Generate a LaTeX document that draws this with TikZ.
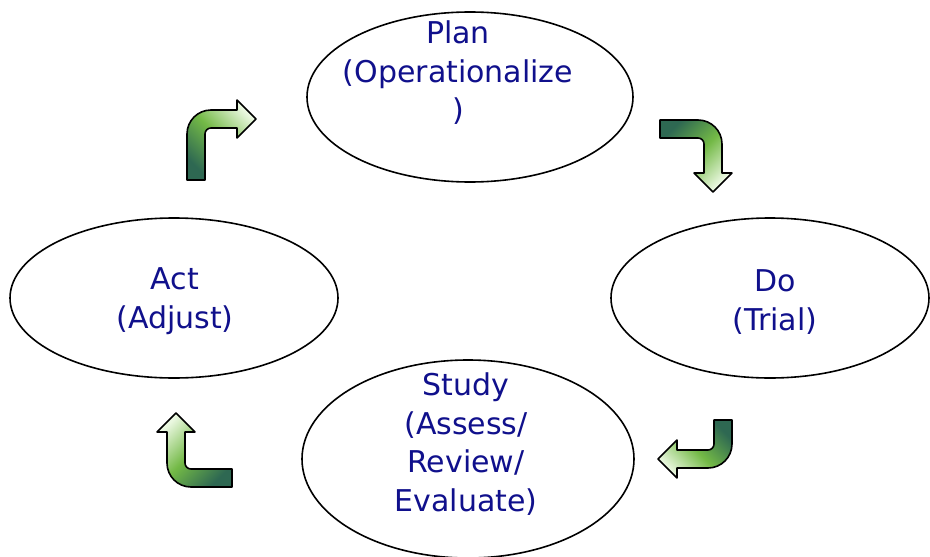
\documentclass[tikz,border=0pt]{standalone}
\usepackage{fontspec}
\setmainfont{DejaVu Sans}
\usetikzlibrary{shapes.geometric}
\definecolor{txtblue}{RGB}{16,16,140}
\definecolor{gdark}{RGB}{46,104,82}
\definecolor{gmid}{RGB}{115,185,70}
\definecolor{glight}{RGB}{235,248,225}
\newcommand\bentarrow[6]{%
 \begin{scope}[shift={(#1,#2)},rotate=#3]
  \pgfmathsetmacro\arA{#4}%
  \pgfmathsetmacro\arB{#4+24}%
  \pgfmathsetmacro\arC{24+#5}%
  \shade[arrowshape, shading angle=#6]
   (0,0) -- (\arA,0) .. controls (\arA+13.25,0) and (\arB,10.75) .. (\arB,24)
   -- (\arB,\arC) -- (\arB+10,\arC) -- (\arB-9,\arC+19) -- (\arB-28,\arC)
   -- (\arB-18,\arC) -- (\arB-18,24) .. controls (\arB-18,20.7) and (\arA+3.3,18) .. (\arA,18)
   -- (0,18) -- cycle;
 \end{scope}}
\begin{document}
\begin{tikzpicture}[x=1pt,y=-1pt,
  oval/.style={ellipse, draw=black, line width=1.6pt, fill=white, inner sep=0pt},
  lbl/.style={align=center, text=txtblue, font=\fontsize{30}{38.5}\selectfont, inner sep=0pt},
  arrowshape/.style={draw=black, line width=1.6pt, line join=round, top color=glight, bottom color=gdark, middle color=gmid}]
\useasboundingbox (0,0) rectangle (930,557);
\node[oval, minimum width=326pt, minimum height=170pt] (plan) at (470,97) {};
\node[oval, minimum width=328pt, minimum height=160pt] (act) at (174,298) {};
\node[oval, minimum width=318pt, minimum height=160pt] (do) at (770,298) {};
\node[oval, minimum width=332pt, minimum height=198pt] (study) at (468,459) {};
\node[lbl] (plantxt) at (458,73) {Plan\\(Operationalize\\)};
\node[lbl] (acttxt) at (175,301) {Act\\(Adjust)};
\node[lbl] (dotxt) at (775,302) {Do\\(Trial)};
\node[lbl] (studytxt) at (466,444) {Study\\(Assess/\\Review/\\Evaluate)};
\bentarrow{660}{120}{0}{38}{29}{-135}
\bentarrow{732}{420}{-90}{24}{31}{135}
\bentarrow{232}{487}{180}{41}{31}{45}
\bentarrow{187}{180}{90}{46}{26}{-45}
\end{tikzpicture}
\end{document}
